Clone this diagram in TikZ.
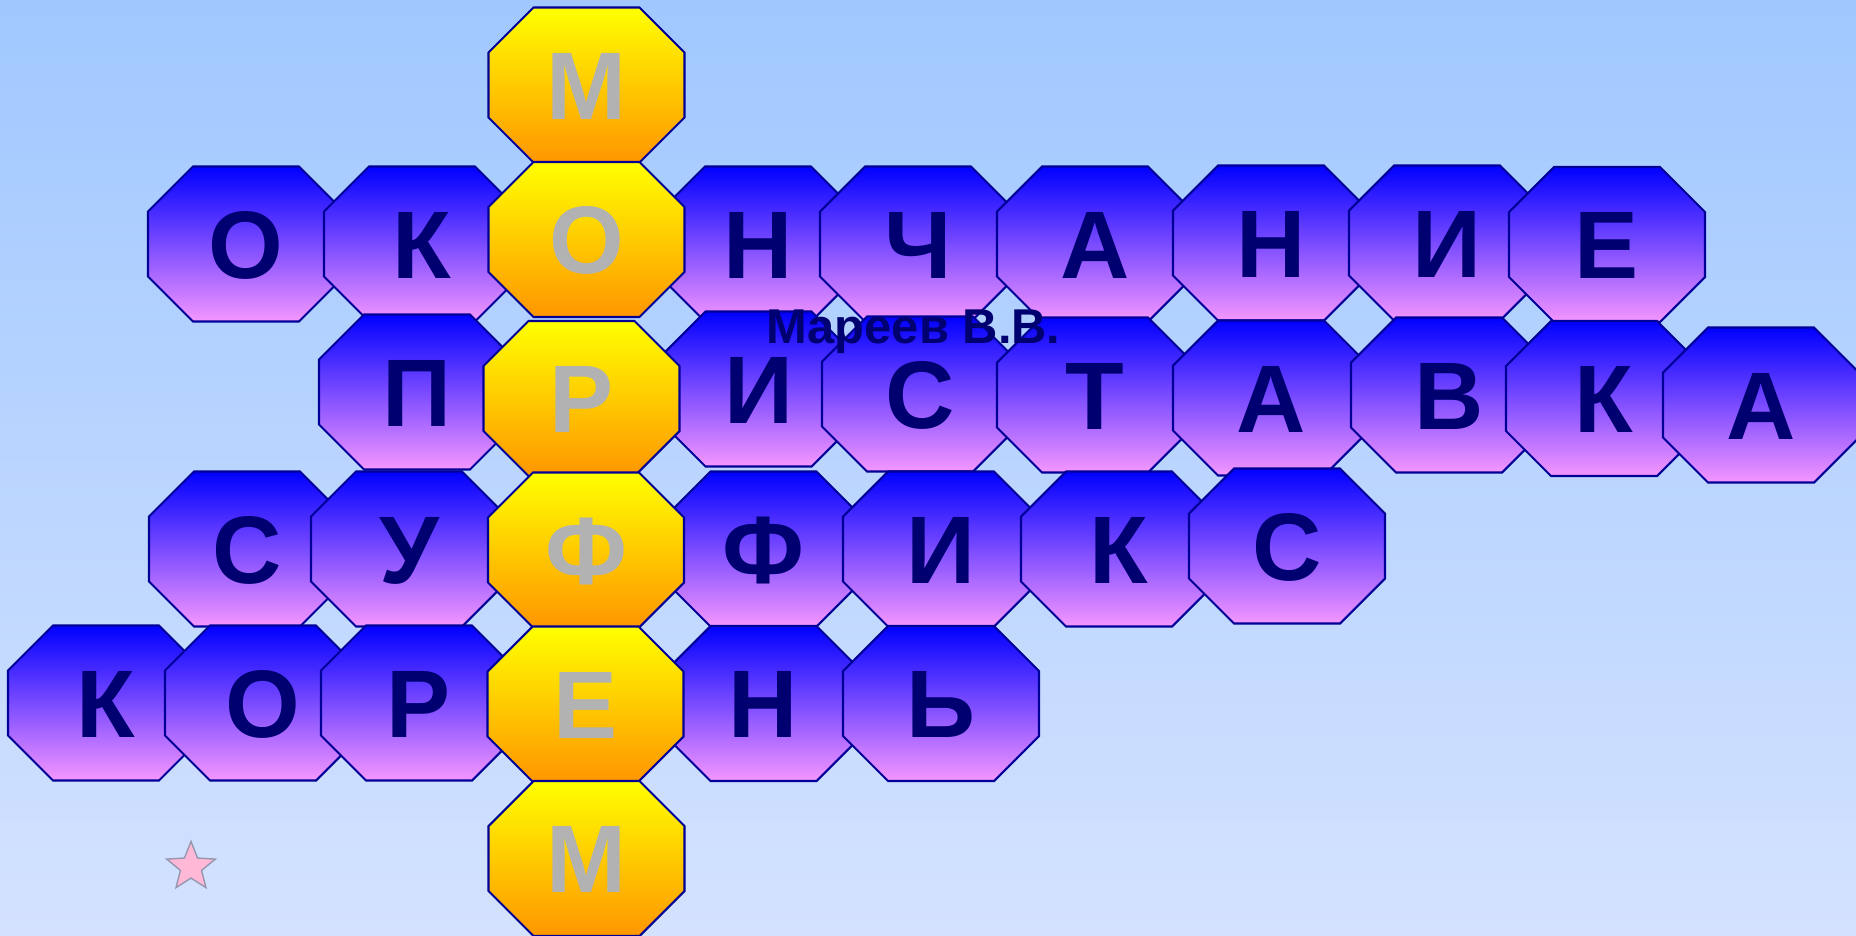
\documentclass[tikz,border=0pt]{standalone}
\usepackage{fontspec}
\setmainfont{Liberation Sans}
\usetikzlibrary{shapes.geometric}

\definecolor{bgtop}{RGB}{160,200,255}
\definecolor{bgbot}{RGB}{212,226,255}
\definecolor{tiletop}{RGB}{0,0,255}
\definecolor{tilebot}{RGB}{244,150,255}
\definecolor{goldtop}{RGB}{255,255,0}
\definecolor{goldbot}{RGB}{255,150,0}
\definecolor{edge}{RGB}{0,0,150}
\definecolor{ink}{RGB}{0,0,112}
\definecolor{greyink}{RGB}{178,178,178}

% octagon tile: name, x, y, style, letter
\newcommand{\octa}[5]{%
  \draw[#4] (#2-53,#3-77.5) -- (#2+53,#3-77.5) -- (#2+98,#3-32.5) -- (#2+98,#3+32.5)
    -- (#2+53,#3+77.5) -- (#2-53,#3+77.5) -- (#2-98,#3+32.5) -- (#2-98,#3-32.5) -- cycle;
  \node[#4 text] (#1) at (#2,#3) {#5};
}

\begin{document}
\begin{tikzpicture}[x=0.01cm, y=-0.01cm,
    tile/.style={top color=tiletop, bottom color=tilebot, draw=edge, line width=0.6pt},
    keytile/.style={top color=goldtop, bottom color=goldbot, draw=edge, line width=0.6pt},
    tile text/.style={text=ink, font=\fontsize{27.3}{30}\selectfont\bfseries,
        text height=0.687cm, text depth=0pt, inner sep=0pt},
    keytile text/.style={tile text, text=greyink},
    author/.style={text=ink, font=\fontsize{13.9}{16}\selectfont\bfseries, inner sep=0pt}
]

% Background
\clip (0,0) rectangle (1856,936);
\shade[top color=bgtop, bottom color=bgbot] (0,0) rectangle (1856,936);

% ОКОНЧАНИЕ
\octa{end1}{246}{244}{tile}{О}
\octa{end2}{422}{244}{tile}{К}
\octa{end4}{758}{244}{tile}{Н}
\octa{end5}{918}{244}{tile}{Ч}
\octa{end6}{1095}{244}{tile}{А}
\octa{end7}{1271}{243}{tile}{Н}
\octa{end8}{1447}{243}{tile}{И}
\octa{end9}{1607}{244.5}{tile}{Е}

% ПРИСТАВКА
\octa{pre1}{417}{392}{tile}{П}
\octa{pre3}{758.5}{389}{tile}{И}
\octa{pre4}{920}{394}{tile}{С}
\octa{pre5}{1095}{395}{tile}{Т}
\octa{pre6}{1271}{398}{tile}{А}
\octa{pre7}{1449}{395}{tile}{В}
\octa{pre8}{1604}{398.5}{tile}{К}
\octa{pre9}{1761}{405}{tile}{А}

% СУФФИКС
\octa{suf1}{247}{549}{tile}{С}
\octa{suf2}{409}{549}{tile}{У}
\octa{suf4}{763.5}{549}{tile}{Ф}
\octa{suf5}{941}{549}{tile}{И}
\octa{suf6}{1119}{549}{tile}{К}
\octa{suf7}{1287}{546}{tile}{С}

% КОРЕНЬ
\octa{root1}{106}{703}{tile}{К}
\octa{root2}{263}{703}{tile}{О}
\octa{root3}{419}{703}{tile}{Р}
\octa{root5}{763.5}{703.5}{tile}{Н}
\octa{root6}{941}{703.5}{tile}{Ь}

% МОРФЕМ
\octa{col1}{586.5}{85}{keytile}{М}
\octa{col2}{586.5}{239.5}{keytile}{О}
\octa{col3}{581.5}{398.5}{keytile}{Р}
\octa{col4}{586}{550}{keytile}{Ф}
\octa{col5}{585.5}{704}{keytile}{Е}
\octa{col6}{586.5}{858.5}{keytile}{М}

\node[author, anchor=base] (name) at (913.5,343) {Мареев В.В.};

\node[star, star points=5, star point ratio=2.3, minimum size=0.51cm, inner sep=0pt,
    fill={rgb,255:red,255;green,185;blue,215}, draw={rgb,255:red,150;green,150;blue,175},
    line width=0.4pt] (mark) at (191,867) {};

\end{tikzpicture}
\end{document}
